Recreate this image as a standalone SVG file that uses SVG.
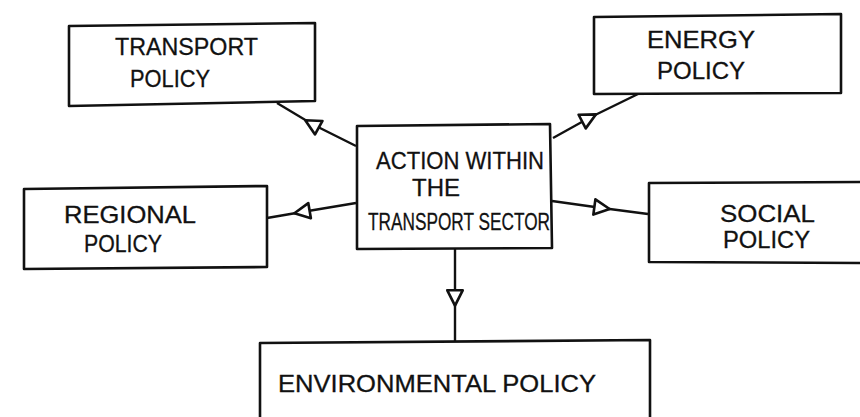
<svg xmlns="http://www.w3.org/2000/svg" width="860" height="417" viewBox="0 0 860 417">
<defs>
<style>
.box{fill:none;stroke:#111;stroke-width:2.6;stroke-linejoin:round}
.con{fill:none;stroke:#111;stroke-width:2.4}
.t{font-family:"Liberation Sans",Arial,sans-serif;font-size:24px;fill:#111;stroke:#111;stroke-width:0.3}
</style>
<marker id="tri" viewBox="0 0 20 20" refX="10" refY="10" markerWidth="22" markerHeight="22" markerUnits="userSpaceOnUse" orient="auto">
<path d="M3,3 L17,10 L3,17 Z" fill="#fff" stroke="#111" stroke-width="2.4" stroke-linejoin="round"/>
</marker>
</defs>
<rect width="860" height="417" fill="#fff"/>
<g id="connectors">
<path class="con" d="M356,146 L312,124 L277,103" marker-mid="url(#tri)"/>
<path class="con" d="M553,138 L589,118 L638,94" marker-mid="url(#tri)"/>
<path class="con" d="M356,203 L302,212 L267,218" marker-mid="url(#tri)"/>
<path class="con" d="M552,201 L602,208 L648,214" marker-mid="url(#tri)"/>
<path class="con" d="M455,249 L455,298 L455,342" marker-mid="url(#tri)"/>
</g>
<g id="transport-policy">
<path class="box" d="M69,26 L315,23 L315,101 L69,106 Z"/>
<text class="t" x="115" y="55" textLength="143" lengthAdjust="spacingAndGlyphs">TRANSPORT</text>
<text class="t" x="130" y="87" textLength="80" lengthAdjust="spacingAndGlyphs">POLICY</text>
</g>
<g id="energy-policy">
<path class="box" d="M594,17 L841,14 L841,93 L594,94 Z"/>
<text class="t" x="647" y="48" textLength="108" lengthAdjust="spacingAndGlyphs">ENERGY</text>
<text class="t" x="657" y="79" textLength="88" lengthAdjust="spacingAndGlyphs">POLICY</text>
</g>
<g id="action-transport-sector">
<path class="box" d="M357,126 L550,124 L552,248 L357,249 Z"/>
<text class="t" x="376" y="169" textLength="168" lengthAdjust="spacingAndGlyphs">ACTION WITHIN</text>
<text class="t" x="412" y="196" textLength="48" lengthAdjust="spacingAndGlyphs">THE</text>
<text class="t" x="368" y="230" textLength="182" lengthAdjust="spacingAndGlyphs">TRANSPORT SECTOR</text>
</g>
<g id="regional-policy">
<path class="box" d="M24,189 L267,186 L267,267 L24,269 Z"/>
<text class="t" x="64" y="223" textLength="132" lengthAdjust="spacingAndGlyphs">REGIONAL</text>
<text class="t" x="84" y="252" textLength="78" lengthAdjust="spacingAndGlyphs">POLICY</text>
</g>
<g id="social-policy">
<path class="box" d="M870,182 L649,183 L649,262 L870,263"/>
<text class="t" x="720" y="222" textLength="95" lengthAdjust="spacingAndGlyphs">SOCIAL</text>
<text class="t" x="723" y="248" textLength="87" lengthAdjust="spacingAndGlyphs">POLICY</text>
</g>
<g id="environmental-policy">
<path class="box" d="M260,425 L260,343 L650,340 L650,425"/>
<text class="t" x="278" y="392" textLength="318" lengthAdjust="spacingAndGlyphs">ENVIRONMENTAL POLICY</text>
</g>
</svg>
